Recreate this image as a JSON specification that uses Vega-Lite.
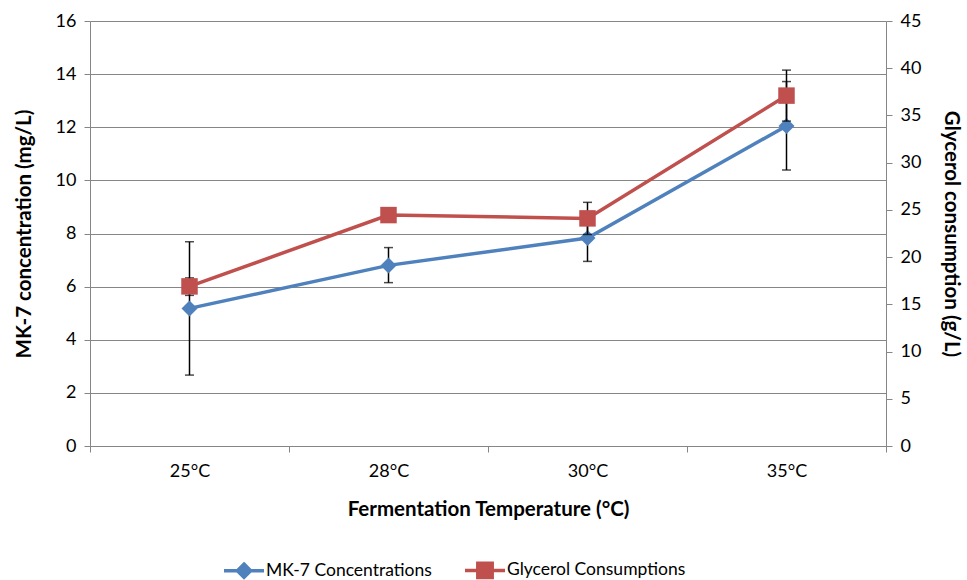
{
  "$schema": "https://vega.github.io/schema/vega-lite/v6.json",
  "width": 796,
  "height": 425,
  "autosize": {"type": "none"},
  "padding": {"left": 90, "top": 21, "right": 81, "bottom": 134},
  "background": "white",
  "config": {
    "font": "Lato",
    "view": {"stroke": null},
    "axis": {
      "labelFont": "Lato", "titleFont": "Lato", "labelFontSize": 18, "titleFontSize": 20.5,
      "titleFontWeight": "bold", "labelColor": "#000", "titleColor": "#000",
      "domainColor": "#868686", "tickColor": "#868686", "gridColor": "#868686",
      "domainWidth": 1, "tickWidth": 1, "gridWidth": 1, "tickSize": 6
    }
  },
  "data": {
    "values": [
      {"temp": "25°C", "mk7": 5.18, "mk7_lo": 2.67, "mk7_hi": 7.69, "gly": 16.9, "gly_lo": 15.95, "gly_hi": 17.8},
      {"temp": "28°C", "mk7": 6.8, "mk7_lo": 6.15, "mk7_hi": 7.47, "gly": 24.45, "gly_lo": 24.1, "gly_hi": 24.8},
      {"temp": "30°C", "mk7": 7.83, "mk7_lo": 6.95, "mk7_hi": 8.7, "gly": 24.1, "gly_lo": 22.4, "gly_hi": 25.8},
      {"temp": "35°C", "mk7": 12.05, "mk7_lo": 10.39, "mk7_hi": 13.72, "gly": 37.1, "gly_lo": 34.4, "gly_hi": 39.8}
    ]
  },
  "encoding": {
    "x": {
      "field": "temp", "type": "ordinal", "sort": null, "bandPosition": 0.5,
      "scale": {"type": "band", "paddingInner": 0, "paddingOuter": 0},
      "axis": {"title": "Fermentation Temperature (°C)", "labelAngle": 0, "tickBand": "extent", "labelPadding": 10, "titlePadding": 19, "grid": false}
    }
  },
  "layer": [
    {
      "layer": [
        {
          "mark": {"type": "rule", "color": "#000", "strokeWidth": 1.5},
          "encoding": {
            "y": {"field": "mk7_lo", "type": "quantitative", "title": "MK-7 concentration (mg/L)",
              "scale": {"domain": [0, 16], "nice": false},
              "axis": {"orient": "left", "values": [0, 2, 4, 6, 8, 10, 12, 14, 16], "grid": true, "labelPadding": 8, "titlePadding": 21}},
            "y2": {"field": "mk7_hi"}
          }
        },
        {
          "mark": {"type": "tick", "orient": "horizontal", "color": "#000", "thickness": 1.5, "size": 9},
          "encoding": {"y": {"field": "mk7_lo", "type": "quantitative", "title": "MK-7 concentration (mg/L)",
              "scale": {"domain": [0, 16], "nice": false},
              "axis": {"orient": "left", "values": [0, 2, 4, 6, 8, 10, 12, 14, 16], "grid": true, "labelPadding": 8, "titlePadding": 21}}}
        },
        {
          "mark": {"type": "tick", "orient": "horizontal", "color": "#000", "thickness": 1.5, "size": 9},
          "encoding": {"y": {"field": "mk7_hi", "type": "quantitative", "title": "MK-7 concentration (mg/L)",
              "scale": {"domain": [0, 16], "nice": false},
              "axis": {"orient": "left", "values": [0, 2, 4, 6, 8, 10, 12, 14, 16], "grid": true, "labelPadding": 8, "titlePadding": 21}}}
        },
        {
          "mark": {"type": "line", "strokeWidth": 3.5},
          "encoding": {
            "y": {"field": "mk7", "type": "quantitative", "title": "MK-7 concentration (mg/L)",
              "scale": {"domain": [0, 16], "nice": false},
              "axis": {"orient": "left", "values": [0, 2, 4, 6, 8, 10, 12, 14, 16], "grid": true, "labelPadding": 8, "titlePadding": 21}},
            "color": {
              "datum": "MK-7 Concentrations", "type": "nominal",
              "scale": {"domain": ["MK-7 Concentrations", "Glycerol Consumptions"], "range": ["#4F81BD", "#C0504D"]},
              "legend": {
                "orient": "none", "legendX": 142, "legendY": 537, "direction": "horizontal", "title": null,
                "labelFont": "Lato", "labelFontSize": 17.5, "labelColor": "#000", "labelLimit": 400,
                "symbolSize": 400, "labelOffset": 10, "columnPadding": 26, "padding": 0,
                "encode": {
                  "symbols": {
                    "update": {
                      "shape": {"signal": "datum.value === 'MK-7 Concentrations' ? 'M-2,0L2,0M0,-0.66L0.66,0L0,0.66L-0.66,0Z' : 'M-2,0L2,0M-0.72,-0.72L0.72,-0.72L0.72,0.72L-0.72,0.72Z'"},
                      "fill": {"signal": "datum.value === 'MK-7 Concentrations' ? '#4F81BD' : '#C0504D'"},
                      "stroke": {"signal": "datum.value === 'MK-7 Concentrations' ? '#4F81BD' : '#C0504D'"},
                      "strokeWidth": {"value": 3.5},
                      "opacity": {"value": 1}
                    }
                  }
                }
              }
            }
          }
        },
        {
          "mark": {"type": "point", "shape": "diamond", "filled": true, "size": 256, "color": "#4F81BD", "opacity": 1},
          "encoding": {"y": {"field": "mk7", "type": "quantitative", "title": "MK-7 concentration (mg/L)",
              "scale": {"domain": [0, 16], "nice": false},
              "axis": {"orient": "left", "values": [0, 2, 4, 6, 8, 10, 12, 14, 16], "grid": true, "labelPadding": 8, "titlePadding": 21}}}
        }
      ]
    },
    {
      "layer": [
        {
          "mark": {"type": "rule", "color": "#000", "strokeWidth": 1.5},
          "encoding": {
            "y": {"field": "gly_lo", "type": "quantitative", "title": "Glycerol consumption (g/L)",
              "scale": {"domain": [0, 45], "nice": false},
              "axis": {"orient": "right", "values": [0, 5, 10, 15, 20, 25, 30, 35, 40, 45], "grid": false, "labelPadding": 8, "titlePadding": 20}},
            "y2": {"field": "gly_hi"}
          }
        },
        {
          "mark": {"type": "tick", "orient": "horizontal", "color": "#000", "thickness": 1.5, "size": 9},
          "encoding": {"y": {"field": "gly_lo", "type": "quantitative", "title": "Glycerol consumption (g/L)",
              "scale": {"domain": [0, 45], "nice": false},
              "axis": {"orient": "right", "values": [0, 5, 10, 15, 20, 25, 30, 35, 40, 45], "grid": false, "labelPadding": 8, "titlePadding": 20}}}
        },
        {
          "mark": {"type": "tick", "orient": "horizontal", "color": "#000", "thickness": 1.5, "size": 9},
          "encoding": {"y": {"field": "gly_hi", "type": "quantitative", "title": "Glycerol consumption (g/L)",
              "scale": {"domain": [0, 45], "nice": false},
              "axis": {"orient": "right", "values": [0, 5, 10, 15, 20, 25, 30, 35, 40, 45], "grid": false, "labelPadding": 8, "titlePadding": 20}}}
        },
        {
          "mark": {"type": "line", "strokeWidth": 3.5},
          "encoding": {
            "y": {"field": "gly", "type": "quantitative", "title": "Glycerol consumption (g/L)",
              "scale": {"domain": [0, 45], "nice": false},
              "axis": {"orient": "right", "values": [0, 5, 10, 15, 20, 25, 30, 35, 40, 45], "grid": false, "labelPadding": 8, "titlePadding": 20}},
            "color": {"datum": "Glycerol Consumptions", "type": "nominal"}
          }
        },
        {
          "mark": {"type": "point", "shape": "square", "filled": true, "size": 272, "color": "#C0504D", "opacity": 1},
          "encoding": {"y": {"field": "gly", "type": "quantitative", "title": "Glycerol consumption (g/L)",
              "scale": {"domain": [0, 45], "nice": false},
              "axis": {"orient": "right", "values": [0, 5, 10, 15, 20, 25, 30, 35, 40, 45], "grid": false, "labelPadding": 8, "titlePadding": 20}}}
        }
      ]
    }
  ],
  "resolve": {"scale": {"y": "independent"}}
}
